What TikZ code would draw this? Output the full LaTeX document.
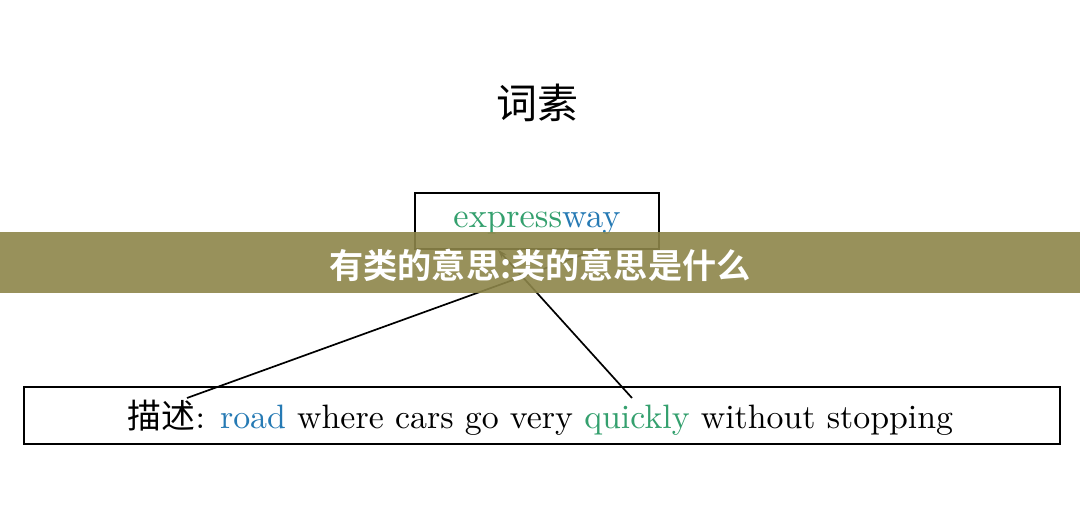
\documentclass[tikz,border=0pt]{standalone}
\usepackage{fontspec}
\usepackage{graphicx}
\newfontfamily\cjk{Noto Sans CJK SC}
\newfontfamily\cjkbold{Noto Sans CJK SC Bold}
\usetikzlibrary{arrows.meta,calc}
\definecolor{wgreen}{RGB}{52,160,110}
\definecolor{wblue}{RGB}{38,122,180}
\definecolor{banner}{RGB}{141,134,74}
\tikzset{
  boxed/.style={draw=black, line width=1.8pt, inner sep=0pt},
  link/.style={draw=black, line width=1.7pt, -{Stealth[length=9pt,width=6pt]}},
}
\begin{document}
\begin{tikzpicture}[x=1pt,y=-1pt]
\useasboundingbox[fill=white] (0,0) rectangle (1080,526);
% title
\node[inner sep=0pt] (title) at (537,103) {\cjk\fontsize{41}{41}\selectfont 词素};
% top box
\node[boxed, minimum width=244pt, minimum height=56pt] (exp) at (537,221) {};
\node[inner sep=0pt] (word) at (537,223) {\resizebox{167pt}{!}{\textcolor{wgreen}{express}\textcolor{wblue}{way}}};
% bottom box
\node[boxed, minimum width=1036pt, minimum height=57pt] (desc) at (542,415.5) {};
\node[inner sep=0pt] (sent) at (540.5,418) {\resizebox{825pt}{!}{{\cjk 描述}: \textcolor{wblue}{road} where cars go very \textcolor{wgreen}{quickly} without stopping}};
\coordinate (c1) at (187,398);
\coordinate (c2) at (632,398);
\draw[link] (c1) -- ($(exp.south west)+(182,0)$);
\draw[link] (c2) -- ($(exp.south west)+(84,0)$);
% banner overlay
\fill[banner, opacity=0.9] (0,232) rectangle (1080,293);
\node[inner sep=0pt, text=white] (ban) at (540,265) {\resizebox{421pt}{!}{\cjkbold 有类的意思:类的意思是什么}};
\end{tikzpicture}
\end{document}
